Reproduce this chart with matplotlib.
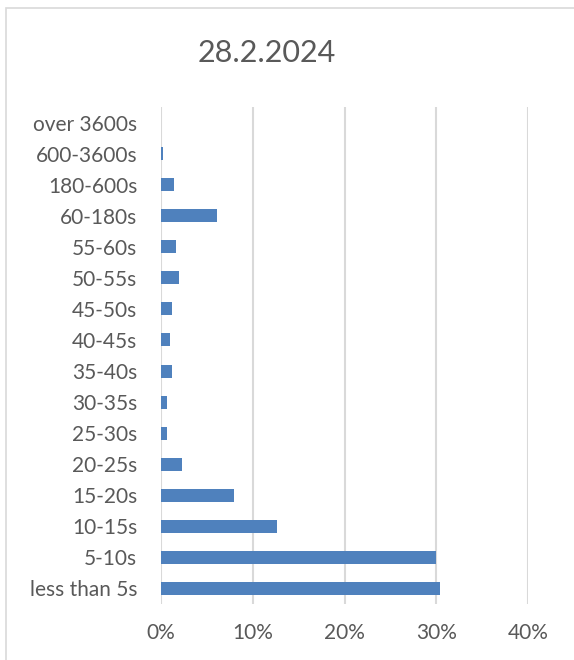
import matplotlib.pyplot as plt
from matplotlib.patches import Rectangle
from matplotlib.ticker import FuncFormatter

categories = ['less than 5s', '5-10s', '10-15s', '15-20s', '20-25s', '25-30s',
              '30-35s', '35-40s', '40-45s', '45-50s', '50-55s', '55-60s',
              '60-180s', '180-600s', '600-3600s', 'over 3600s']
shares = [30.4, 29.95, 12.68, 7.96, 2.29, 0.62,
          0.62, 1.24, 1.02, 1.24, 1.96, 1.6,
          6.07, 1.38, 0.25, 0.0]
xticks = [0, 10, 20, 30, 40]

plt.rcParams['font.family'] = ['Lato', 'DejaVu Sans']
grey = '#595959'

fig = plt.figure(figsize=(5.74, 6.6), dpi=100)
W, H = 574, 660

# chart frame
fig.patches.append(Rectangle((6 / W, -0.1), 1.2, (H - 8) / H + 0.1,
                             transform=fig.transFigure, fill=False,
                             edgecolor='#D9D9D9', linewidth=1.2))

ax = fig.add_axes([161 / W, 1 - 604 / H, (528 - 161) / W, (604 - 107) / H])
ax.barh(range(len(categories)), shares, height=0.42, color='#4F81BD', zorder=3)
ax.set_xlim(0, 40)
ax.set_ylim(-0.5, len(categories) - 0.5)
ax.set_xticks(xticks)
ax.xaxis.set_major_formatter(FuncFormatter(lambda v, p: f'{v:.0f}%'))
ax.set_yticks(range(len(categories)))
ax.set_yticklabels(categories)
ax.grid(axis='x', color='#D9D9D9', linewidth=1.5, zorder=0)
for s in ax.spines.values():
    s.set_visible(False)
ax.tick_params(length=0, labelsize=15, colors=grey)
ax.tick_params(axis='y', pad=17)
ax.tick_params(axis='x', pad=14)

fig.text(267 / W, 1 - 53 / H, '28.2.2024', ha='center', va='center',
         fontsize=22, color=grey)

fig.savefig('out.png', dpi=100)
